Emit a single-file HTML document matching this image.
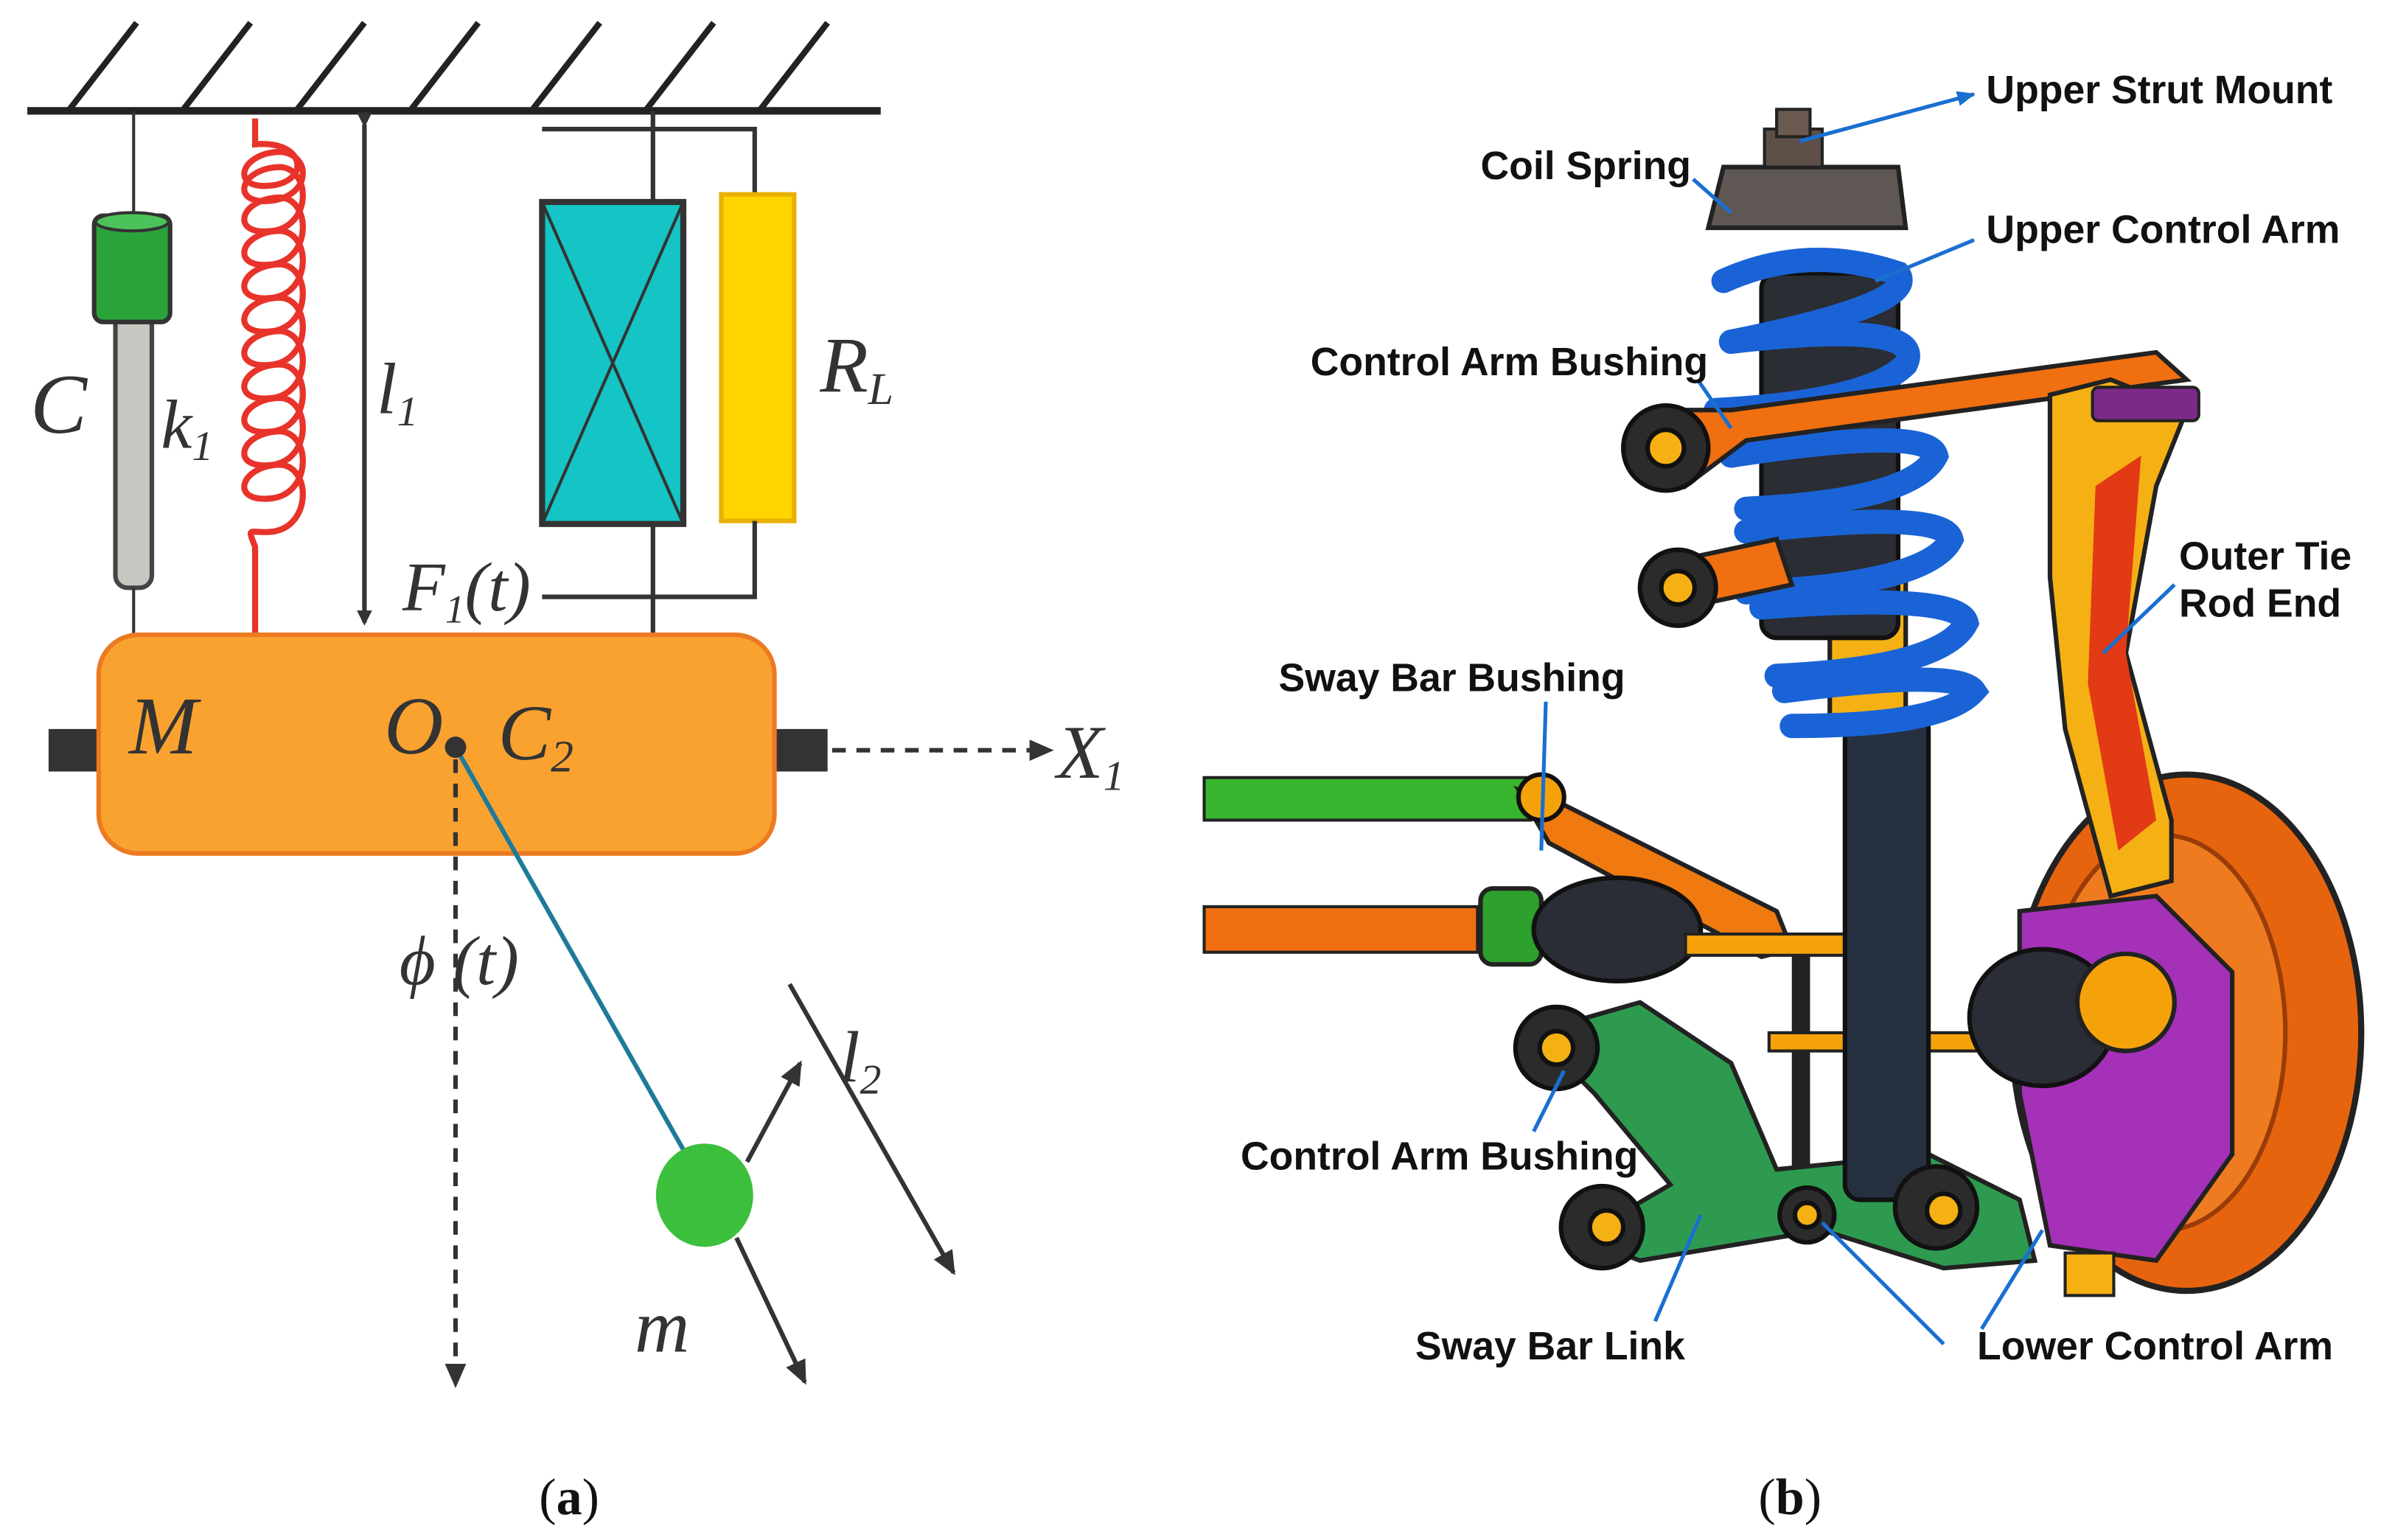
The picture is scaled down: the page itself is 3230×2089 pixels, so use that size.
<!DOCTYPE html>
<html><head><meta charset="utf-8"><style>
html,body{margin:0;padding:0;background:#fff;}
svg{display:block;}
.ser{font-family:"Liberation Serif",serif;font-style:italic;fill:#333;}
.lab{font-family:"Liberation Sans",sans-serif;font-size:26px;font-weight:bold;fill:#111;}
</style></head><body>
<svg width="3230" height="2089" viewBox="0 0 1568 1014" preserveAspectRatio="none" xmlns="http://www.w3.org/2000/svg">
<defs>
<marker id="ah" markerWidth="10" markerHeight="10" refX="8" refY="5" orient="auto" markerUnits="userSpaceOnUse"><path d="M0,0 L10,5 L0,10 z" fill="#333"/></marker>
<marker id="ahl" markerWidth="16" markerHeight="14" refX="14" refY="7" orient="auto" markerUnits="userSpaceOnUse"><path d="M0,0 L16,7 L0,14 z" fill="#333"/></marker>
<marker id="ab" markerWidth="12" markerHeight="10" refX="11" refY="5" orient="auto" markerUnits="userSpaceOnUse"><path d="M0,0 L12,5 L0,10 z" fill="#1a6fd1"/></marker>
</defs>
<line x1="18" y1="73" x2="580" y2="73" stroke="#222" stroke-width="5"/>
<g stroke="#222" stroke-width="4">
<line x1="45" y1="73" x2="90" y2="15"/><line x1="120" y1="73" x2="165" y2="15"/><line x1="195" y1="73" x2="240" y2="15"/><line x1="270" y1="73" x2="315" y2="15"/><line x1="350" y1="73" x2="395" y2="15"/><line x1="425" y1="73" x2="470" y2="15"/><line x1="500" y1="73" x2="545" y2="15"/>
</g>
<line x1="88" y1="73" x2="88" y2="140" stroke="#333" stroke-width="2"/>
<rect x="76" y="205" width="24" height="182" rx="8" fill="#c8c6c0" stroke="#444" stroke-width="3"/>
<rect x="62" y="142" width="50" height="70" rx="6" fill="#2aa33a" stroke="#333" stroke-width="3"/>
<ellipse cx="87" cy="146" rx="24" ry="6" fill="#4cc35a" stroke="#333" stroke-width="2"/>
<line x1="88" y1="387" x2="88" y2="418" stroke="#333" stroke-width="2"/>
<text x="20" y="285" class="ser" font-size="56">C</text>
<text x="106" y="295" class="ser" font-size="46">k<tspan font-size="28" dy="8">1</tspan></text>
<path d="M168,78 L168,95 C200,92 205,118 180,122 C150,126 158,100 185,100
C205,102 205,128 180,132 C150,136 158,110 185,110
C205,112 205,148 180,152 C150,156 158,130 185,130
C205,132 205,170 180,174 C150,178 158,152 185,152
C205,154 205,192 180,196 C150,200 158,174 185,174
C205,176 205,214 180,218 C150,222 158,196 185,196
C205,198 205,236 180,240 C150,244 158,218 185,218
C205,220 205,258 180,262 C150,266 158,240 185,240
C205,242 205,280 180,284 C150,288 158,262 185,262
C205,264 205,302 180,306 C150,310 158,284 185,284
C205,286 205,324 180,328 C150,332 158,306 185,306
C205,308 205,346 180,350 C165,352 162,345 168,360 L168,418" fill="none" stroke="#e8332a" stroke-width="4"/>
<line x1="240" y1="82" x2="240" y2="410" stroke="#333" stroke-width="3" marker-start="url(#ah)" marker-end="url(#ah)"/>
<text x="248" y="272" class="ser" font-size="48">l<tspan font-size="28" dy="8">1</tspan></text>
<polyline points="357,85 497,85 497,128" fill="none" stroke="#333" stroke-width="3"/>
<line x1="430" y1="73" x2="430" y2="418" stroke="#333" stroke-width="3"/>
<rect x="357" y="133" width="93" height="212" fill="#15c4c4" stroke="#333" stroke-width="4"/>
<line x1="357" y1="133" x2="450" y2="345" stroke="#333" stroke-width="2"/><line x1="450" y1="133" x2="357" y2="345" stroke="#333" stroke-width="2"/>
<rect x="475" y="128" width="48" height="215" fill="#ffd400" stroke="#e8b000" stroke-width="3"/>
<polyline points="497,343 497,393 357,393" fill="none" stroke="#333" stroke-width="3"/>
<text x="265" y="402" class="ser" font-size="46">F<tspan font-size="26" dy="8">1</tspan><tspan dy="-8">(t)</tspan></text>
<text x="540" y="258" class="ser" font-size="52">R<tspan font-size="30" dy="8">L</tspan></text>
<rect x="32" y="480" width="34" height="28" fill="#333"/><rect x="510" y="480" width="35" height="28" fill="#333"/>
<rect x="65" y="418" width="445" height="144" rx="26" fill="#f9a230" stroke="#ec7a22" stroke-width="3"/>
<line x1="548" y1="494" x2="692" y2="494" stroke="#333" stroke-width="3" stroke-dasharray="9,7" marker-end="url(#ahl)"/>
<text x="696" y="512" class="ser" font-size="50">X<tspan font-size="28" dy="8">1</tspan></text>
<text x="85" y="496" class="ser" font-size="54">M</text>
<text x="253" y="496" class="ser" font-size="54">O</text>
<text x="328" y="500" class="ser" font-size="52">C<tspan font-size="30" dy="8">2</tspan></text>
<line x1="300" y1="500" x2="300" y2="912" stroke="#333" stroke-width="3" stroke-dasharray="9,7" marker-end="url(#ahl)"/>
<line x1="300" y1="492" x2="450" y2="757" stroke="#1f7a9a" stroke-width="3"/>
<circle cx="300" cy="492" r="7" fill="#333"/>
<text x="263" y="648" class="ser" font-size="46">ϕ (t)</text>
<ellipse cx="464" cy="787" rx="32" ry="34" fill="#3cbf3c"/>
<line x1="492" y1="765" x2="527" y2="700" stroke="#333" stroke-width="3" marker-end="url(#ahl)"/>
<line x1="485" y1="815" x2="530" y2="910" stroke="#333" stroke-width="3" marker-end="url(#ahl)"/>
<line x1="520" y1="648" x2="628" y2="838" stroke="#333" stroke-width="3" marker-end="url(#ahl)"/>
<text x="553" y="712" class="ser" font-size="48">l<tspan font-size="28" dy="8">2</tspan></text>
<text x="418" y="890" class="ser" font-size="50">m</text>
<text x="355" y="997" font-family="Liberation Serif,serif" font-size="34" fill="#111">(<tspan font-weight="bold">a</tspan>)</text>
<text x="1158" y="997" font-family="Liberation Serif,serif" font-size="34" fill="#111">(<tspan font-weight="bold">b</tspan>)</text>

<rect x="793" y="512" width="215" height="28" fill="#38b52e" stroke="#222" stroke-width="2"/>
<rect x="793" y="597" width="180" height="30" fill="#f06f10" stroke="#222" stroke-width="2"/>
<path d="M1000,520 L1030,530 L1170,600 L1180,625 L1160,630 L1020,555 Z" fill="#f07a10" stroke="#222" stroke-width="3"/>
<rect x="1180" y="620" width="12" height="190" fill="#222"/>
<rect x="975" y="585" width="40" height="50" rx="8" fill="#2da02d" stroke="#222" stroke-width="3"/>
<ellipse cx="1065" cy="612" rx="55" ry="34" fill="#2a2d36" stroke="#111" stroke-width="3"/>
<rect x="1110" y="615" width="120" height="14" fill="#f5a20a" stroke="#222" stroke-width="2"/>
<path d="M1010,680 L1080,660 L1140,700 L1170,770 L1270,760 L1330,790 L1340,830 L1280,835 L1200,810 L1080,830 L1040,815 L1100,780 L1050,720 Z" fill="#2e9a4f" stroke="#222" stroke-width="3"/>
<rect x="1165" y="680" width="140" height="12" fill="#f5a20a" stroke="#222" stroke-width="2"/>
<rect x="1215" y="470" width="55" height="320" rx="10" fill="#27303e" stroke="#111" stroke-width="3"/>
<rect x="1205" y="380" width="50" height="95" fill="#f5b014" stroke="#222" stroke-width="3"/>
<rect x="1160" y="180" width="90" height="240" rx="10" fill="#2a2d33" stroke="#111" stroke-width="3"/>
<g fill="none" stroke="#1a63d6" stroke-width="16" stroke-linecap="round">
<path d="M1135,185 Q1190,160 1250,180 Q1265,200 1140,225"/>
<path d="M1140,225 Q1270,210 1255,240 Q1230,265 1130,270"/>
<path d="M1140,300 Q1270,280 1275,300 Q1260,330 1150,335"/>
<path d="M1150,350 Q1280,335 1285,355 Q1270,385 1150,390"/>
<path d="M1160,400 Q1290,390 1295,410 Q1280,440 1170,445"/>
<path d="M1175,455 Q1290,440 1300,455 Q1280,478 1180,478"/>
</g>
<path d="M1125,150 L1135,110 L1250,110 L1255,150 Z" fill="#5e5754" stroke="#222" stroke-width="3"/>
<rect x="1162" y="85" width="38" height="25" fill="#5e4f48" stroke="#222" stroke-width="2"/>
<rect x="1170" y="72" width="22" height="18" fill="#6b5a50" stroke="#222" stroke-width="2"/>
<path d="M1090,270 L1140,270 L1420,232 L1440,250 L1150,290 L1110,320 Z" fill="#f06f10" stroke="#222" stroke-width="3"/>
<path d="M1100,370 L1170,355 L1180,385 L1110,400 Z" fill="#f06f10" stroke="#222" stroke-width="3"/>
<g stroke="#111" stroke-width="3">
<circle cx="1097" cy="295" r="28" fill="#2b2b2b"/><circle cx="1097" cy="295" r="12" fill="#f5b014"/>
<circle cx="1105" cy="387" r="25" fill="#2b2b2b"/><circle cx="1105" cy="387" r="11" fill="#f5b014"/>
<circle cx="1025" cy="690" r="27" fill="#2b2b2b"/><circle cx="1025" cy="690" r="11" fill="#f5b014"/>
<circle cx="1055" cy="808" r="27" fill="#2b2b2b"/><circle cx="1058" cy="808" r="11" fill="#f5b014"/>
<circle cx="1190" cy="800" r="18" fill="#2b2b2b"/><circle cx="1190" cy="800" r="8" fill="#f5b014"/>
<circle cx="1275" cy="795" r="27" fill="#2b2b2b"/><circle cx="1280" cy="797" r="11" fill="#f5b014"/>
<circle cx="1015" cy="525" r="15" fill="#f5a20a"/>
</g>
<ellipse cx="1440" cy="680" rx="115" ry="170" fill="#e7640f" stroke="#222" stroke-width="4"/>
<ellipse cx="1425" cy="680" rx="80" ry="130" fill="#ef7b20" stroke="#9a3c08" stroke-width="3"/>
<path d="M1350,260 L1390,250 L1440,270 L1420,320 L1400,430 L1430,540 L1430,580 L1390,590 L1360,480 L1350,380 Z" fill="#f5b014" stroke="#222" stroke-width="3"/>
<path d="M1380,320 L1410,300 L1400,430 L1420,540 L1395,560 L1375,450 Z" fill="#e23a15"/>
<rect x="1378" y="255" width="70" height="22" rx="4" fill="#7b2a8a" stroke="#222" stroke-width="2"/>
<path d="M1330,600 L1420,590 L1470,640 L1470,760 L1420,830 L1350,820 L1330,720 Z" fill="#a531b8" stroke="#222" stroke-width="3"/>
<ellipse cx="1345" cy="670" rx="48" ry="45" fill="#2a2d36" stroke="#111" stroke-width="3"/>
<circle cx="1400" cy="660" r="32" fill="#f5a20a" stroke="#222" stroke-width="3"/>
<rect x="1360" y="825" width="32" height="28" fill="#f5b014" stroke="#222" stroke-width="2"/>

<g stroke="#1a6fd1" stroke-width="2.5" fill="none">
<line x1="1185" y1="93" x2="1300" y2="62" marker-end="url(#ab)"/>
<line x1="1115" y1="118" x2="1140" y2="140"/>
<line x1="1235" y1="185" x2="1300" y2="158"/>
<line x1="1118" y1="250" x2="1140" y2="282"/>
<line x1="1432" y1="385" x2="1385" y2="430"/>
<line x1="1018" y1="462" x2="1015" y2="560"/>
<line x1="1010" y1="745" x2="1030" y2="705"/>
<line x1="1090" y1="870" x2="1120" y2="800"/>
<line x1="1280" y1="885" x2="1200" y2="805"/>
<line x1="1305" y1="875" x2="1345" y2="810"/>
</g>
<text x="1308" y="68" class="lab">Upper Strut Mount</text>
<text x="975" y="118" class="lab">Coil Spring</text>
<text x="1308" y="160" class="lab">Upper Control Arm</text>
<text x="863" y="247" class="lab">Control Arm Bushing</text>
<text x="1435" y="375" class="lab">Outer Tie</text>
<text x="1435" y="406" class="lab">Rod End</text>
<text x="842" y="455" class="lab">Sway Bar Bushing</text>
<text x="817" y="770" class="lab">Control Arm Bushing</text>
<text x="932" y="895" class="lab">Sway Bar Link</text>
<text x="1302" y="895" class="lab">Lower Control Arm</text>
</svg>
</body></html>
